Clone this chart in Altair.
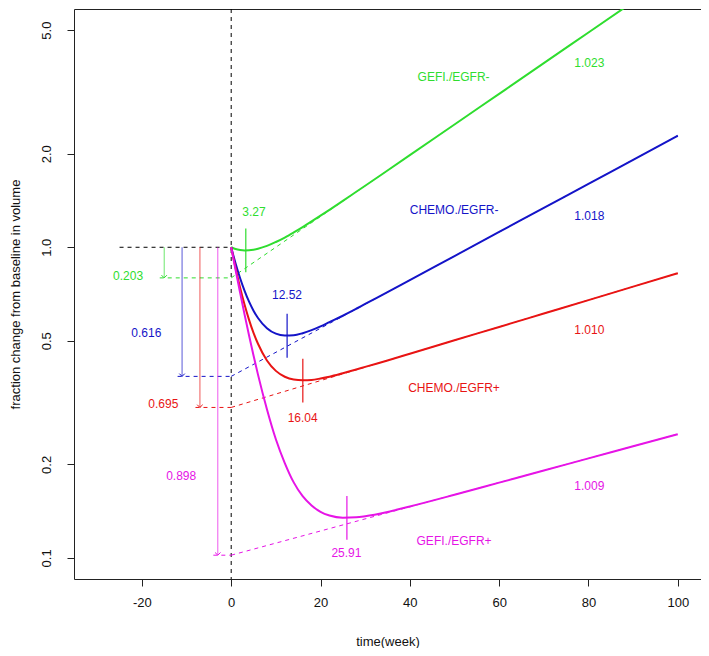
import altair as alt
import pandas as pd

# ---------------- data ----------------
groups = ["GEFI./EGFR-", "CHEMO./EGFR-", "CHEMO./EGFR+", "GEFI./EGFR+"]
colors = ["#2fdd2f", "#1414c8", "#e81414", "#e614e6"]

weeks = [0, 0.5, 1, 2, 3, 4, 5, 6, 8, 10, 12, 14, 16, 18, 20, 22, 25, 28, 30,
         35, 40, 50, 60, 70, 80, 90, 100]
gefi_neg = [1.0, 0.993, 0.987, 0.980, 0.977, 0.978, 0.982, 0.989, 1.010, 1.040,
            1.075, 1.116, 1.161, 1.211, 1.264, 1.320, 1.411, 1.509, 1.578,
            1.767, 1.979, 2.485, 3.119, 3.915, 4.915, 6.170, 7.745]
chemo_neg = [1.0, 0.939, 0.885, 0.795, 0.724, 0.668, 0.625, 0.592, 0.549, 0.527,
             0.520, 0.521, 0.529, 0.541, 0.556, 0.574, 0.602, 0.634, 0.657,
             0.717, 0.784, 0.937, 1.120, 1.339, 1.600, 1.913, 2.286]
chemo_pos = [1.0, 0.923, 0.855, 0.741, 0.653, 0.584, 0.530, 0.489, 0.432, 0.400,
             0.383, 0.375, 0.373, 0.374, 0.378, 0.383, 0.393, 0.404, 0.412,
             0.432, 0.454, 0.502, 0.554, 0.612, 0.676, 0.747, 0.825]
gefi_pos = [1.0, 0.918, 0.843, 0.714, 0.607, 0.520, 0.448, 0.389, 0.301, 0.241,
            0.202, 0.175, 0.158, 0.1475, 0.1407, 0.1369, 0.1347, 0.1351, 0.1362,
            0.1406, 0.1464, 0.1597, 0.1747, 0.1911, 0.2091, 0.2287, 0.2502]
series = [gefi_neg, chemo_neg, chemo_pos, gefi_pos]

killed_frac = ["0.203", "0.616", "0.695", "0.898"]
resist_level = [0.797, 0.384, 0.305, 0.102]      # dashed asymptote at week 0
resist_at_100 = [7.745, 2.286, 0.825, 0.2502]    # dashed asymptote at week 100
growth_rate = ["1.023", "1.018", "1.010", "1.009"]
min_week = [3.27, 12.52, 16.04, 25.91]
min_value = [0.977, 0.519, 0.372, 0.1345]
min_label = ["3.27", "12.52", "16.04", "25.91"]
arrow_week = [-15, -11, -7, -3]
baseline_start = -25

# label anchor positions (data coordinates)
name_xy = [(49.8, 3.53), (49.9, 1.322), (49.9, 0.351), (49.9, 0.1134)]
rate_xy = [(80.2, 3.91), (80.2, 1.26), (80.2, 0.543), (80.2, 0.1706)]
minlab_xy = [(5.1, 1.297), (12.5, 0.701), (16.0, 0.282), (25.8, 0.1037)]
frac_xy = [(-23.1, 0.808), (-19.0, 0.528), (-15.2, 0.312), (-11.2, 0.183)]

x_ticks = [-20, 0, 20, 40, 60, 80, 100]
y_ticks = [0.1, 0.2, 0.5, 1.0, 2.0, 5.0]

# ---------------- tables ----------------
curves = pd.DataFrame([
    {"t": w, "v": v, "g": g}
    for g, vals in zip(groups, series) for w, v in zip(weeks, vals)
])
asym = pd.DataFrame({"t": [0] * 4, "v": resist_level, "t2": [100] * 4,
                     "v2": resist_at_100, "g": groups})
hdash = pd.DataFrame({"t": [a - 1 for a in arrow_week], "v": resist_level,
                      "t2": [0] * 4, "v2": resist_level, "g": groups})
arrows = pd.DataFrame({"t": arrow_week, "v": [1.0] * 4, "t2": arrow_week,
                       "v2": resist_level, "g": groups})
heads = pd.DataFrame({"t": arrow_week, "v": resist_level, "g": groups})
mins = pd.DataFrame({"t": min_week, "v": [m * 0.85 for m in min_value],
                     "t2": min_week, "v2": [m / 0.85 for m in min_value],
                     "g": groups})
texts = pd.DataFrame(
    [{"t": p[0], "v": p[1], "g": g, "label": g} for g, p in zip(groups, name_xy)]
    + [{"t": p[0], "v": p[1], "g": g, "label": r} for g, p, r in zip(groups, rate_xy, growth_rate)]
    + [{"t": p[0], "v": p[1], "g": g, "label": m} for g, p, m in zip(groups, minlab_xy, min_label)]
    + [{"t": p[0], "v": p[1], "g": g, "label": k} for g, p, k in zip(groups, frac_xy, killed_frac)]
)
black_v = pd.DataFrame({"t": [0]})
black_h = pd.DataFrame({"t": [baseline_start], "v": [1.0], "t2": [0], "v2": [1.0]})

# ---------------- scales / axes ----------------
xs = alt.Scale(domain=[-35.2, 105.2], nice=False, zero=False)
ys = alt.Scale(type="log", domain=[0.0855, 5.85], nice=False)
xaxis = alt.Axis(values=x_ticks, grid=False, domain=False, tickSize=7,
                 tickColor="#222", labelFontSize=13, labelPadding=10,
                 labelExpr="'' + datum.value",
                 titleFontSize=13, titleFontWeight="normal", titlePadding=26,
                 labelColor="#111", titleColor="#111")
yaxis = alt.Axis(values=y_ticks, format=".1f", grid=False, domain=False,
                 tickSize=7, tickColor="#222", labelFontSize=13,
                 labelAngle=270, labelAlign="center", labelBaseline="bottom",
                 labelPadding=14, titleFontSize=13, titleFontWeight="normal",
                 titlePadding=18, labelColor="#111", titleColor="#111")
col = alt.Color("g:N", scale=alt.Scale(domain=groups, range=colors), legend=None)


def X(f="t"):
    return alt.X(f"{f}:Q", scale=xs, axis=xaxis, title="time(week)")


def Y(f="v"):
    return alt.Y(f"{f}:Q", scale=ys, axis=yaxis,
                 title="fraction change from baseline in volume")


dash = [4, 4]

l_vline = alt.Chart(black_v).mark_rule(color="black", strokeDash=dash, strokeWidth=1).encode(x=X())
l_hline = alt.Chart(black_h).mark_rule(color="black", strokeDash=dash, strokeWidth=1).encode(
    x=X(), y=Y(), x2="t2:Q", y2="v2:Q")
l_asym = alt.Chart(asym).mark_rule(strokeDash=dash, strokeWidth=1, clip=True).encode(
    x=X(), y=Y(), x2="t2:Q", y2="v2:Q", color=col)
l_hdash = alt.Chart(hdash).mark_rule(strokeDash=dash, strokeWidth=1).encode(
    x=X(), y=Y(), x2="t2:Q", y2="v2:Q", color=col)
l_arrows = alt.Chart(arrows).mark_rule(strokeWidth=1, opacity=0.7).encode(
    x=X(), y=Y(), x2="t2:Q", y2="v2:Q", color=col)
l_heads = alt.Chart(heads).mark_point(shape="M -1 -1 L 0 0 L 1 -1", size=30,
                                      filled=False, strokeWidth=1, opacity=1).encode(
    x=X(), y=Y(), color=col)
l_curves = alt.Chart(curves).mark_line(strokeWidth=2, interpolate="monotone", clip=True).encode(
    x=X(), y=Y(), color=col, detail="g:N", order="t:Q")
l_mins = alt.Chart(mins).mark_rule(strokeWidth=1.2).encode(
    x=X(), y=Y(), x2="t2:Q", y2="v2:Q", color=col)
l_text = alt.Chart(texts).mark_text(fontSize=12, font="Liberation Sans").encode(
    x=X(), y=Y(), text="label:N", color=col)

chart = alt.layer(
    l_vline, l_hline, l_asym, l_hdash, l_arrows, l_heads, l_curves, l_mins, l_text
).properties(
    width=693, height=640,
    padding=0,
    autosize=alt.AutoSizeParams(type="fit", contains="padding"),
).configure_view(
    stroke="#222", strokeWidth=1
).configure_axis(
    labelFont="Liberation Sans", titleFont="Liberation Sans"
)

chart.save("out.html", embed_options={"renderer": "svg", "actions": False})
